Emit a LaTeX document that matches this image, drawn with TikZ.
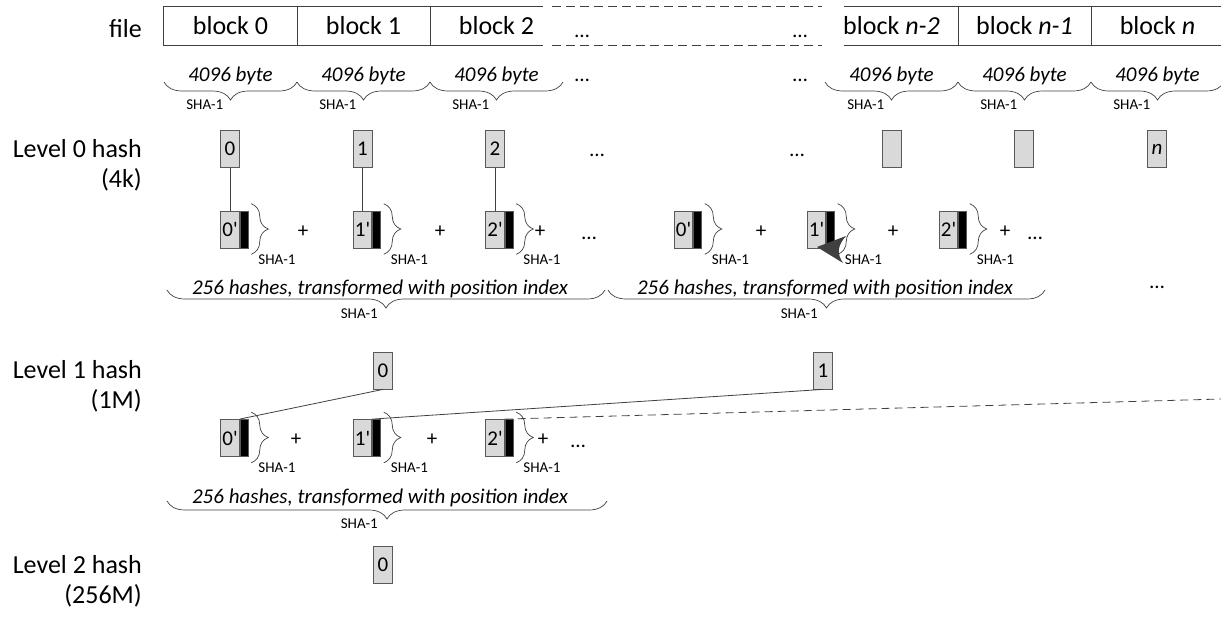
\documentclass[tikz,border=0pt]{standalone}
\usepackage{fontspec}
\setmainfont{Carlito}[Ligatures=TeXOff]
\usetikzlibrary{decorations.pathreplacing,calc}
\definecolor{boxfill}{RGB}{217,217,217}
\definecolor{boxline}{RGB}{89,89,89}
\definecolor{linegray}{RGB}{64,64,64}
\newcommand\fbig{\fontsize{26}{30}\selectfont}
\newcommand\fmid{\fontsize{21}{25}\selectfont}
\newcommand\fsmall{\fontsize{15}{18}\selectfont}

\begin{document}
\begin{tikzpicture}[x=1pt,y=-1pt,
  cell/.style={minimum width=133pt,minimum height=38pt,inner sep=0pt,font=\fbig},
  lbl/.style={anchor=base east,inner sep=0pt,font=\fbig},
  hbox/.style={draw=boxline,fill=boxfill,line width=0.8pt,minimum width=19pt,
    minimum height=37pt,inner sep=0pt,font=\fmid},
  pbox/.style={draw=boxline,fill=boxfill,line width=0.8pt,minimum width=18.5pt,
    minimum height=37pt,inner sep=0pt,font=\fmid},
  pbar/.style={fill=black,draw=boxline,line width=0.6pt,minimum width=8pt,
    minimum height=37pt,inner sep=0pt,anchor=west},
  ital/.style={font=\fmid\itshape,inner sep=0pt,anchor=base},
  txt/.style={font=\fmid,inner sep=0pt,anchor=base},
  plus/.style={font=\fmid,inner sep=0pt},
  sha/.style={font=\fsmall,inner sep=0pt,anchor=base east},
  shar/.style={font=\fsmall,inner sep=0pt,anchor=base west},
  link/.style={draw=linegray,line width=0.8pt},
  frame/.style={draw=linegray,line width=0.9pt},
  brdown/.style={draw=linegray,line width=0.7pt,decorate,
    decoration={brace,mirror,amplitude=#1}},
  brdown/.default=18pt,
  brright/.style={draw=linegray,line width=0.7pt,decorate,
    decoration={brace,amplitude=#1}},
  brright/.default=17pt,
]
\useasboundingbox (0,0) rectangle (1221,627);

% ---- the file, split into blocks ----
\node[lbl] (file) at (142,37) {file};
\node[cell] (b0)  at (230.5,26)  {block 0};
\node[cell] (b1)  at (363.5,26)  {block 1};
\node[cell] (b2)  at (496.5,26)  {block 2};
\node[cell] (bn2) at (891.5,26)  {block \textit{n-2}};
\node[cell] (bn1) at (1024.5,26) {block \textit{n-1}};
\node[cell] (bn)  at (1157.5,26) {block \textit{n}};
\draw[frame] ([xshift=-20pt]b2.north east) -- (b0.north west) -- (b0.south west)
  -- ([xshift=-20pt]b2.south east);
\draw[frame] (b0.north east) -- (b0.south east);
\draw[frame] (b1.north east) -- (b1.south east);
\draw[frame,dash pattern=on 9pt off 5pt] ([xshift=-11pt]b2.north east) -- ([xshift=-3pt]bn2.north west);
\draw[frame,dash pattern=on 9pt off 5pt] ([xshift=-11pt]b2.south east) -- ([xshift=-3pt]bn2.south west);
\draw[frame] ([xshift=19pt]bn2.north west) -- (bn.north east);
\draw[frame] ([xshift=19pt]bn2.south west) -- (bn.south east);
\draw[frame] (bn2.north east) -- (bn2.south east);
\draw[frame] (bn1.north east) -- (bn1.south east);
\node[txt] (fd1) at (582,37) {…};
\node[txt] (fd2) at (800,37) {…};

% ---- 4096 byte per block, hashed with SHA-1 ----
\foreach \c/\n in {230.5/0,363.5/1,496.5/2,891.5/3,1024.5/4,1157.5/5}{
  \draw[brdown] (\c-66.5,82) -- (\c+66.5,82);
  \node[ital] (sz\n) at (\c,81) {4096 byte};
  \node[sha] (bs\n) at (\c-7,109) {SHA-1};
}
\node[txt] (sd1) at (582,81) {…};
\node[txt] (sd2) at (800,81) {…};

% ---- level 0 ----
\node[lbl] (l0a) at (142,157) {Level 0 hash};
\node[lbl] (l0b) at (142,187) {(4k)};
\node[hbox] (h0)  at (230,149)   {0};
\node[hbox] (h1)  at (362.5,149) {1};
\node[hbox] (h2)  at (495,149)   {2};
\node[hbox] (hn2) at (892,149)   {};
\node[hbox] (hn1) at (1024,149)  {};
\node[hbox] (hn)  at (1157,149)  {\textit{n}};
\node[txt] (hd1) at (597,156) {…};
\node[txt] (hd2) at (797,156) {…};

% transformed hashes, two groups of 256
\foreach \x/\n/\t in {230/a0/0,362.5/a1/1,495/a2/2,683.5/b0/0,816.5/b1/1,948.5/b2/2}{
  \node[pbox] (p\n) at (\x,229.5) {\t'};
  \node[pbar] (q\n) at (p\n.east) {};
  \draw[brright] ($(q\n.north east)+(3,-7)$) -- ($(q\n.south east)+(3,6)$);
  \node[shar] (s\n) at ($(q\n.south east)+(10,16)$) {SHA-1};
}
\draw[link] (h0.south) -- (pa0.north);
\draw[link] (h1.south) -- (pa1.north);
\draw[link] (h2.south) -- (pa2.north);
\fill[linegray] (817,247) -- (846,236) .. controls (837,246) and (837,254) .. (843,263) -- cycle;

\foreach \x/\n in {303/1,440/2,540/3,761/4,893/5,1005/6}{
  \node[plus] (pl\n) at (\x,232) {+};
}
\node[txt] (gd1) at (589,239) {…};
\node[txt] (gd2) at (1035,239) {…};
\node[txt] (gd3) at (1157,288) {…};

\draw[brdown] (167,290) -- (605,290);
\draw[brdown] (608,290) -- (1045,290);
\node[ital] (ga) at (380,294) {256 hashes, transformed with position index};
\node[ital] (gb) at (825,294) {256 hashes, transformed with position index};
\node[sha] (gsa) at (378,318) {SHA-1};
\node[sha] (gsb) at (818,318) {SHA-1};

% ---- level 1 ----
\node[lbl] (l1a) at (142,378) {Level 1 hash};
\node[lbl] (l1b) at (142,408) {(1M)};
\node[hbox] (k0) at (383,370.5) {0};
\node[hbox] (k1) at (823,370.5) {1};

\foreach \x/\n/\t in {230/c0/0,362.5/c1/1,495/c2/2}{
  \node[pbox] (p\n) at (\x,438) {\t'};
  \node[pbar] (q\n) at (p\n.east) {};
  \draw[brright] ($(q\n.north east)+(3,-7)$) -- ($(q\n.south east)+(3,6)$);
  \node[shar] (s\n) at ($(q\n.south east)+(10,16)$) {SHA-1};
}
\foreach \x/\n in {296/7,432/8,543/9}{
  \node[plus] (pl\n) at (\x,440) {+};
}
\node[txt] (kd1) at (578,447) {…};
\coordinate (cont) at (1221,399);
\draw[link] (k0.south) -- (pc0.north east);
\draw[link] (k1.south) -- (pc1.north east);
\draw[link,dash pattern=on 8pt off 5pt] (pc2.north east) -- (cont);

\draw[brdown] (167,501) -- (607,501);
\node[ital] (gc) at (380,503) {256 hashes, transformed with position index};
\node[sha] (gsc) at (378,528) {SHA-1};

% ---- level 2 ----
\node[lbl] (l2a) at (142,573) {Level 2 hash};
\node[lbl] (l2b) at (142,603) {(256M)};
\node[hbox] (m0) at (383,565) {0};
\end{tikzpicture}
\end{document}
